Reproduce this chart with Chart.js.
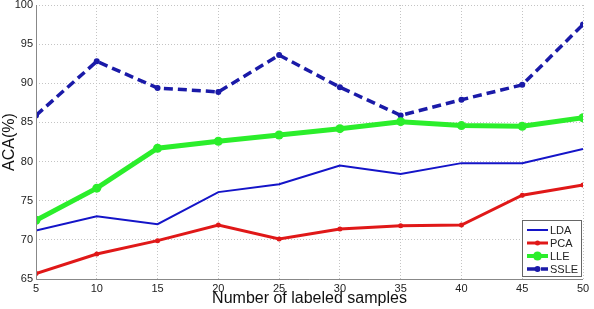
<!DOCTYPE html>
<html>
<head>
<meta charset="utf-8">
<script src="https://cdn.jsdelivr.net/npm/chart.js@4.4.1/dist/chart.umd.min.js"></script>
<style>
  html, body { margin: 0; padding: 0; background: #fff; }
  #wrap { width: 594px; height: 309px; }
</style>
</head>
<body>
<div id="wrap"><canvas id="accChart" width="594" height="309"></canvas></div>
<script>
const samples = [5, 10, 15, 20, 25, 30, 35, 40, 45, 50];
const ldaVals = [71.2, 73.0, 72.0, 76.1, 77.1, 79.5, 78.4, 79.8, 79.8, 81.6];
const pcaVals = [65.7, 68.2, 69.9, 71.9, 70.1, 71.4, 71.8, 71.9, 75.7, 77.0];
const lleVals = [72.5, 76.6, 81.7, 82.6, 83.4, 84.2, 85.1, 84.6, 84.5, 85.6];
const ssleVals = [85.9, 92.8, 89.4, 88.9, 93.6, 89.5, 85.9, 87.9, 89.8, 97.5];

const toPts = vals => vals.map((v, i) => ({ x: samples[i], y: v }));

const fontName = "'Liberation Sans', Arial, sans-serif";

// frame around plot + legend box in lower right (MATLAB style)
const boxPlugin = {
  id: "boxPlugin",
  afterDraw(chart) {
    const ctx = chart.ctx;
    const a = chart.chartArea;
    ctx.save();
    // axis lines left & bottom
    ctx.strokeStyle = "#888";
    ctx.lineWidth = 1;
    ctx.beginPath();
    ctx.moveTo(a.left + 0.5, a.top);
    ctx.lineTo(a.left + 0.5, a.bottom + 0.5);
    ctx.lineTo(a.right, a.bottom + 0.5);
    ctx.stroke();

    // legend
    const lx = 522, ly = 220, lw = 59, lh = 56;
    ctx.fillStyle = "#fff";
    ctx.fillRect(lx, ly, lw, lh);
    ctx.strokeStyle = "#666";
    ctx.strokeRect(lx + 0.5, ly + 0.5, lw, lh);
    ctx.font = "11px " + fontName;
    ctx.textBaseline = "middle";
    chart.data.datasets.forEach((ds, i) => {
      const y = ly + 10 + i * 13;
      ctx.strokeStyle = ds.borderColor;
      ctx.lineWidth = Math.min(ds.borderWidth, 4);
      ctx.setLineDash(ds.borderDash || []);
      ctx.beginPath();
      ctx.moveTo(lx + 5, y);
      ctx.lineTo(lx + 26, y);
      ctx.stroke();
      ctx.setLineDash([]);
      if (ds.pointRadius > 0) {
        ctx.fillStyle = ds.pointBackgroundColor;
        ctx.beginPath();
        ctx.arc(lx + 15.5, y, ds.pointRadius, 0, Math.PI * 2);
        ctx.fill();
      }
      ctx.fillStyle = "#222";
      ctx.fillText(ds.label, lx + 28, y + 0.5);
    });
    ctx.restore();
  }
};

new Chart("accChart", {
  type: "line",
  data: {
    datasets: [
      {
        label: "LDA",
        data: toPts(ldaVals),
        borderColor: "#1414c8",
        borderWidth: 2,
        pointRadius: 0,
        pointBackgroundColor: "#1414c8",
        tension: 0
      },
      {
        label: "PCA",
        data: toPts(pcaVals),
        borderColor: "#e01818",
        borderWidth: 3,
        pointRadius: 2.5,
        pointBackgroundColor: "#e01818",
        pointBorderWidth: 0,
        tension: 0
      },
      {
        label: "LLE",
        data: toPts(lleVals),
        borderColor: "#2bee2b",
        borderWidth: 5,
        pointRadius: 4.5,
        pointBackgroundColor: "#2bee2b",
        pointBorderWidth: 0,
        tension: 0
      },
      {
        label: "SSLE",
        data: toPts(ssleVals),
        borderColor: "#1a1aa8",
        borderWidth: 3.5,
        borderDash: [9, 5],
        pointRadius: 3,
        pointBackgroundColor: "#1a1aa8",
        pointBorderWidth: 0,
        tension: 0
      }
    ]
  },
  options: {
    responsive: false,
    animation: false,
    layout: { padding: { top: 5, right: 11, left: 0, bottom: 0 } },
    plugins: {
      legend: { display: false },
      tooltip: { enabled: false }
    },
    scales: {
      x: {
        type: "linear",
        min: 5,
        max: 50,
        ticks: { stepSize: 5, color: "#222", font: { family: fontName, size: 11 }, padding: 3, maxRotation: 0 },
        grid: { color: "#c4c4c4", drawTicks: false },
        border: { display: false, dash: [1, 2] },
        title: { display: true, text: "Number of labeled samples", color: "#111", font: { family: fontName, size: 16 }, padding: { top: 0, bottom: 1 } },
        afterFit(scale) {
          scale.height = 30;
          scale.paddingLeft = 0;
          scale.paddingRight = 0;
        }
      },
      y: {
        min: 65,
        max: 100,
        ticks: { stepSize: 5, color: "#222", font: { family: fontName, size: 11 }, padding: 3 },
        grid: { color: "#c4c4c4", drawTicks: false },
        border: { display: false, dash: [1, 2] },
        title: { display: true, text: "ACA(%)", color: "#111", font: { family: fontName, size: 16 }, padding: { top: 0, bottom: 0 } },
        afterFit(scale) {
          scale.width = 36;
          scale.paddingTop = 0;
          scale.paddingBottom = 0;
        }
      }
    }
  },
  plugins: [boxPlugin]
});
</script>
</body>
</html>
